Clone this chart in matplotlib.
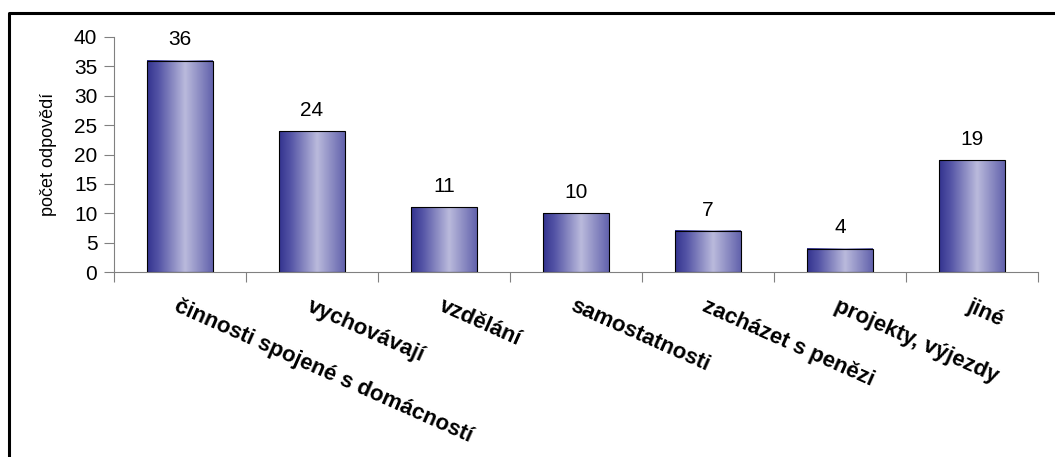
import numpy as np
import matplotlib.pyplot as plt
from matplotlib.colors import LinearSegmentedColormap
from matplotlib.lines import Line2D

# data
categories = ["činnosti spojené s domácností", "vychovávají", "vzdělání",
              "samostatnosti", "zacházet s penězi", "projekty, výjezdy", "jiné"]
values = [36, 24, 11, 10, 7, 4, 19]

plt.rcParams['font.family'] = ['Liberation Sans', 'DejaVu Sans']

# horizontal gradient like the old excel bars
grad = LinearSegmentedColormap.from_list(
    "bar", [(0.0, "#33338f"), (0.18, "#5555a6"), (0.58, "#babadc"), (1.0, "#6262ac")])

fig = plt.figure(figsize=(10.55, 4.57), dpi=100)
ax = fig.add_axes([114 / 1055, 1 - 272 / 457, 924 / 1055, 235 / 457])

x = np.arange(len(categories))
width = 0.5
ramp = np.linspace(0, 1, 256).reshape(1, -1)
for xi, v in zip(x, values):
    ax.imshow(ramp, cmap=grad, aspect='auto', extent=[xi - width / 2, xi + width / 2, 0, v],
              origin='lower', zorder=2)
    ax.bar(xi, v, width=width, fill=False, edgecolor='black', linewidth=0.8, zorder=3)
    ax.annotate(str(v), (xi, v), xytext=(0, 8), textcoords='offset points',
                ha='center', va='bottom', fontsize=15)

ax.set_xlim(-0.5, len(categories) - 0.5)
ax.set_ylim(0, 40)
ax.set_yticks(range(0, 41, 5))
ax.tick_params(axis='y', labelsize=15, length=7, width=0.8, color='#808080', pad=5)

# ticks between categories, labels at the centres
ax.set_xticks(np.arange(-0.5, len(categories), 1))
ax.set_xticklabels([])
ax.tick_params(axis='x', which='major', length=7, width=0.8, color='#808080')
ax.set_xticks(x, minor=True)
ax.set_xticklabels(categories, minor=True, rotation=-24, ha='left', va='top',
                   rotation_mode='anchor', fontsize=16, fontweight='bold')
ax.tick_params(axis='x', which='minor', length=0, pad=17)

for s in ['top', 'right']:
    ax.spines[s].set_visible(False)
for s in ['left', 'bottom']:
    ax.spines[s].set_color('#808080')
    ax.spines[s].set_linewidth(0.8)

ax.set_ylabel("počet odpovědí", fontsize=13, labelpad=12)

# frame around the chart area (open to the right and bottom)
fx, fy = 9 / 1055, 1 - 13 / 457
fig.add_artist(Line2D([fx, fx, 1.0], [0.0, fy, fy], color='black', linewidth=2.2,
                      transform=fig.transFigure))

fig.savefig("out.png", dpi=100)
